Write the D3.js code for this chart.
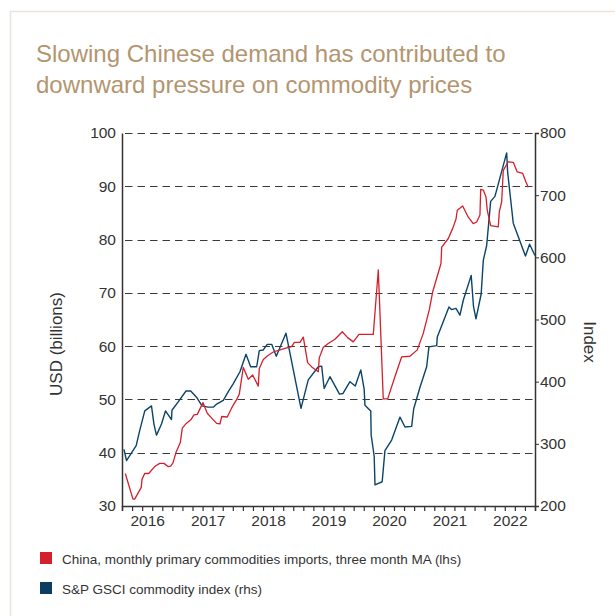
<!DOCTYPE html>
<html>
<head>
<meta charset="utf-8">
<script src="https://cdn.jsdelivr.net/npm/d3@7"></script>
<style>
  html, body { margin: 0; padding: 0; background: #ffffff; }
  svg { display: block; }
  text { font-family: "Liberation Sans", Arial, Helvetica, sans-serif; }
</style>
</head>
<body>
<script>
// ---- Data ----
const titleLines = ["Slowing Chinese demand has contributed to", "downward pressure on commodity prices"];
const yearLabels = [2016, 2017, 2018, 2019, 2020, 2021, 2022];
const leftTicks = [30, 40, 50, 60, 70, 80, 90, 100];
const rightTicks = [200, 300, 400, 500, 600, 700, 800];
const legendLabels = ["China, monthly primary commodities imports, three month MA (lhs)", "S&P GSCI commodity index (rhs)"];

// China imports, 3m MA (USD bn) – time in decimal years
const redTime = [2016.138,2016.265,2016.293,2016.402,2016.414,2016.459,2016.525,2016.624,2016.707,2016.778,2016.844,2016.889,2016.927,2016.981,
  2017.048,2017.081,2017.147,2017.230,2017.274,2017.329,2017.423,2017.494,2017.567,2017.650,2017.704,2017.733,2017.825,2017.898,2017.981,
  2018.024,2018.090,2018.173,2018.245,2018.338,2018.355,2018.421,2018.504,2018.586,2018.697,2018.780,2018.891,2018.934,
  2019.028,2019.083,2019.155,2019.222,2019.331,2019.347,2019.414,2019.496,2019.607,2019.728,2019.817,2019.910,
  2020.004,2020.241,2020.324,2020.406,2020.479,2020.600,2020.711,2020.848,2020.969,
  2021.068,2021.167,2021.224,2021.361,2021.373,2021.482,2021.555,2021.609,2021.631,2021.720,2021.813,2021.895,2021.952,
  2022.006,2022.018,2022.061,2022.106,2022.127,2022.183,2022.309,2022.326,2022.365,2022.392,2022.474,2022.557,2022.623,2022.713,2022.767,2022.805];
const redValues = [36.1,31.3,31.3,33.5,35.0,36.1,36.1,37.4,38.0,38.0,37.4,37.5,38.1,40.2,
  41.9,44.6,45.5,46.3,47.1,47.2,49.4,47.4,46.5,45.5,45.4,46.8,46.7,48.4,50.0,
  51.0,56.0,53.8,54.6,52.5,55.8,57.5,58.3,58.9,59.3,59.6,59.9,60.7,
  60.7,61.7,56.9,56.1,55.2,57.8,59.8,60.5,61.3,62.7,61.6,60.8,
  62.2,62.2,74.3,50.1,50.1,54.3,58.0,58.1,59.3,
  62.4,66.8,70.2,75.5,78.6,80.2,82.1,83.8,85.5,86.3,84.2,83.0,83.3,
  84.6,89.4,89.3,88.0,85.5,82.6,82.4,85.2,87.1,93.0,94.6,94.5,92.7,92.4,90.8,89.8];

// S&P GSCI index – time in decimal years
const blueTime = [2016.116,2016.158,2016.318,2016.373,2016.460,2016.571,2016.613,2016.654,2016.737,2016.803,2016.902,2016.910,
  2017.010,2017.142,2017.220,2017.316,2017.407,2017.506,2017.594,2017.650,2017.759,2017.842,2017.925,
  2018.035,2018.135,2018.212,2018.312,2018.355,2018.421,2018.487,2018.560,2018.636,2018.796,
  2019.045,2019.165,2019.331,2019.387,2019.428,2019.524,2019.682,2019.740,2019.855,2019.943,
  2020.034,2020.090,2020.103,2020.199,2020.206,2020.256,2020.269,2020.388,2020.434,2020.545,2020.683,2020.765,2020.876,2020.909,
  2021.014,2021.124,2021.162,2021.290,2021.300,2021.493,2021.535,2021.609,2021.675,2021.730,2021.861,2021.899,2021.940,
  2022.026,2022.061,2022.117,2022.183,2022.254,2022.448,2022.464,2022.557,2022.759,2022.827,2022.916];
const blueValues = [291,273,297,320,353,361,331,314,332,353,339,354,
  367,385,385,375,361,359,359,364,370,384,397,
  416,444,424,424,450,451,460,460,441,478,
  357,403,424,425,389,408,380,381,400,393,
  419,388,362,353,314,280,234,239,289,306,343,327,328,356,
  391,424,456,458,472,520,516,518,507,531,571,521,501,
  541,595,619,690,698,768,737,655,602,621,603];

// ---- Layout ----
const W = 615, H = 616;
const plot = { left: 122, right: 535, top: 133, bottom: 506 };
const colors = { red: "#d4202c", blue: "#0b4468", title: "#b3956f", text: "#333333", grid: "#3a3a3a", frame: "#ece4da" };

const svg = d3.select("body").append("svg").attr("width", W).attr("height", H);

// frame
svg.append("path").attr("d", `M10.5,${H} V11.5 H${W}`).attr("fill", "none").attr("stroke", colors.frame).attr("stroke-width", 1.5);

// title
svg.append("g").selectAll("text").data(titleLines).join("text")
  .attr("x", 36).attr("y", (d, i) => 62 + i * 31)
  .attr("fill", colors.title).attr("font-size", 24).text(d => d);

// scales
const xStart = 2016 + 1 / 12, xEnd = xStart + 82 / 12;
const x = d3.scaleLinear().domain([xStart, xEnd]).range([plot.left, plot.right]);
const yL = d3.scaleLinear().domain([30, 100]).range([plot.bottom, plot.top]);
const yR = d3.scaleLinear().domain([200, 800]).range([plot.bottom, plot.top]);

// gridlines (dashed)
svg.append("g").selectAll("line").data(leftTicks.slice(1)).join("line")
  .attr("x1", plot.left + 3).attr("x2", plot.right)
  .attr("y1", d => Math.round(yL(d)) + 0.5).attr("y2", d => Math.round(yL(d)) + 0.5)
  .attr("stroke", colors.grid).attr("stroke-width", 1.2).attr("stroke-dasharray", "7.5,5");

// left axis
const gL = svg.append("g").attr("transform", `translate(${plot.left},0)`)
  .call(d3.axisLeft(yL).tickValues(leftTicks).tickSize(0).tickPadding(6));
gL.select(".domain").attr("stroke", colors.text).attr("stroke-width", 1.5);
gL.selectAll("text").attr("font-size", 15.5).attr("fill", colors.text).attr("font-family", "Liberation Sans, Arial, sans-serif");

// right axis
const gR = svg.append("g").attr("transform", `translate(${plot.right},0)`)
  .call(d3.axisRight(yR).tickValues(rightTicks).tickSize(4).tickPadding(1));
gR.select(".domain").attr("stroke", colors.text).attr("stroke-width", 1.5);
gR.selectAll("line").attr("stroke", colors.text);
gR.selectAll("text").attr("font-size", 15.5).attr("fill", colors.text).attr("font-family", "Liberation Sans, Arial, sans-serif");

// bottom axis: minor ticks every 2 months
const minorTicks = d3.range(0, 42).map(k => xStart + k * 2 / 12);
const gB = svg.append("g").attr("transform", `translate(0,${plot.bottom})`)
  .call(d3.axisBottom(x).tickValues(minorTicks).tickSize(5).tickFormat(""));
gB.select(".domain").attr("stroke", colors.text).attr("stroke-width", 1.5);
gB.selectAll("line").attr("stroke", colors.text).attr("stroke-width", 1.2);

// bottom axis: year labels at mid-year
const gB2 = svg.append("g").attr("transform", `translate(0,${plot.bottom})`)
  .call(d3.axisBottom(x).tickValues(yearLabels.map(yv => yv + 0.5)).tickSize(0).tickPadding(9).tickFormat(d => String(Math.floor(d))));
gB2.select(".domain").remove();
gB2.selectAll("text").attr("font-size", 15.5).attr("fill", colors.text).attr("font-family", "Liberation Sans, Arial, sans-serif");

// axis titles
svg.append("text").attr("transform", "translate(62,344) rotate(-90)").attr("text-anchor", "middle")
  .attr("font-size", 17).attr("fill", colors.text).text("USD (billions)");
svg.append("text").attr("transform", "translate(584,342) rotate(90)").attr("text-anchor", "middle")
  .attr("font-size", 17).attr("fill", colors.text).text("Index");

// lines
const redData = redTime.map((t, i) => ({ t, v: redValues[i] }));
const blueData = blueTime.map((t, i) => ({ t, v: blueValues[i] }));

svg.append("path").datum(blueData)
  .attr("fill", "none").attr("stroke", colors.blue).attr("stroke-width", 1.4).attr("stroke-linejoin", "round")
  .attr("d", d3.line().x(d => x(d.t)).y(d => yR(d.v)));
svg.append("path").datum(redData)
  .attr("fill", "none").attr("stroke", colors.red).attr("stroke-width", 1.3).attr("stroke-linejoin", "round")
  .attr("d", d3.line().x(d => x(d.t)).y(d => yL(d.v)));

// legend
const legend = svg.append("g").attr("transform", "translate(40,552)");
const legColors = [colors.red, "#0d3d63"];
legend.selectAll("rect").data(legendLabels).join("rect")
  .attr("x", 0).attr("y", (d, i) => i * 30).attr("width", 12).attr("height", 12)
  .attr("fill", (d, i) => legColors[i]);
legend.selectAll("text").data(legendLabels).join("text")
  .attr("x", 22).attr("y", (d, i) => i * 30 + 12)
  .attr("font-size", 13.5).attr("fill", colors.text).text(d => d);
</script>
</body>
</html>
